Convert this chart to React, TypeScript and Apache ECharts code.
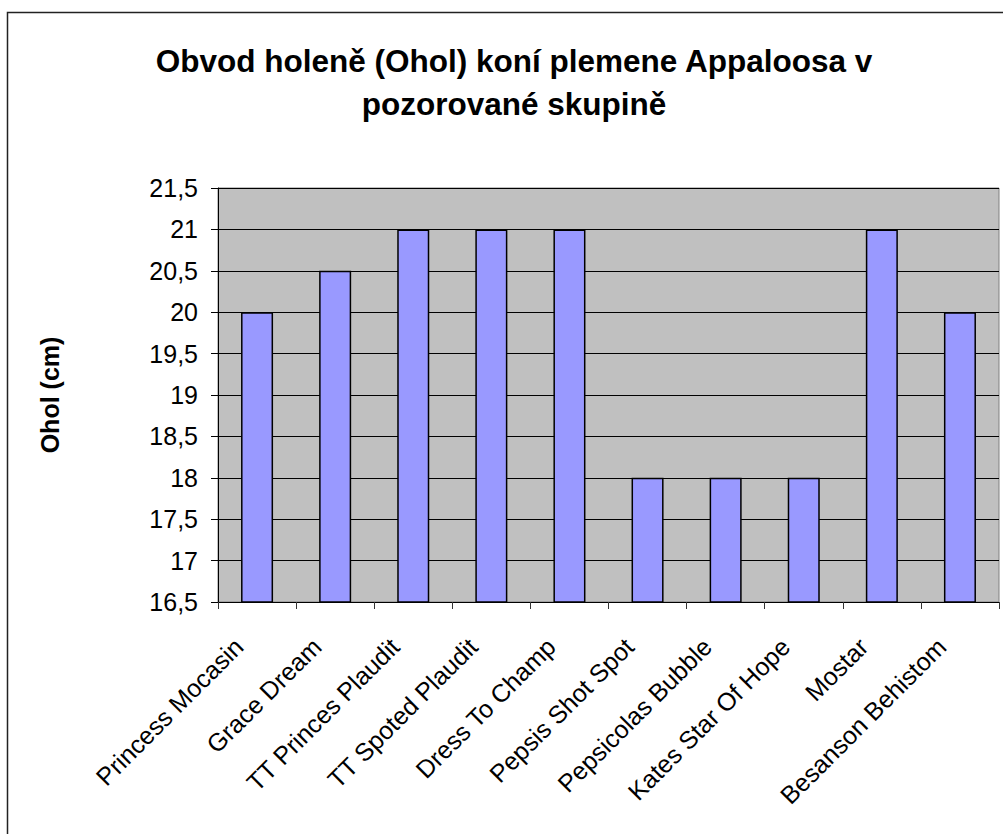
import React, { useEffect, useRef } from "react";
import * as echarts from "echarts";

const titleLines = ["Obvod holeně (Ohol) koní plemene Appaloosa v", "pozorované skupině"];
const yAxisName = "Ohol (cm)";
const horses = [
  "Princess Mocasin",
  "Grace Dream",
  "TT Princes Plaudit",
  "TT Spoted Plaudit",
  "Dress To Champ",
  "Pepsis Shot Spot",
  "Pepsicolas Bubble",
  "Kates Star Of Hope",
  "Mostar",
  "Besanson Behistom",
];
const oholValues = [20, 20.5, 21, 21, 21, 18, 18, 18, 21, 20];
const yMin = 16.5;
const yMax = 21.5;
const yStep = 0.5;

const FONT = "'Liberation Sans', Arial, sans-serif";

export default function App() {
  const ref = useRef<HTMLDivElement>(null);
  useEffect(() => {
    if (!ref.current) return;
    const chart = echarts.init(ref.current, null, { renderer: "svg" });
    chart.setOption({
      animation: false,
      backgroundColor: "#ffffff",
      textStyle: { fontFamily: FONT },
      graphic: [
        {
          type: "rect",
          shape: { x: 7.5, y: 12.5, width: 1200, height: 1000 },
          style: { fill: "none", stroke: "#222", lineWidth: 1.5 },
          silent: true,
        },
        {
          type: "text",
          x: 514,
          y: 39,
          style: {
            text: titleLines.join("\n"),
            textAlign: "center",
            textVerticalAlign: "top",
            font: `bold 31.5px ${FONT}`,
            lineHeight: 43,
            fill: "#000",
          },
        },
      ],
      grid: {
        left: 218,
        right: 4,
        top: 188,
        bottom: 232,
        show: true,
        backgroundColor: "#C0C0C0",
        borderColor: "#808080",
        borderWidth: 1,
      },
      xAxis: {
        type: "category",
        data: horses,
        boundaryGap: true,
        axisLine: { show: true, lineStyle: { color: "#000", width: 1 } },
        axisTick: { show: true, length: 7, lineStyle: { color: "#333" } },
        axisLabel: {
          rotate: 45,
          interval: 0,
          margin: 22,
          padding: [0, 26, 0, 0],
          color: "#000",
          fontSize: 25,
          fontFamily: FONT,
        },
        splitLine: { show: false },
      },
      yAxis: {
        type: "value",
        min: yMin,
        max: yMax,
        interval: yStep,
        name: yAxisName,
        nameLocation: "middle",
        nameGap: 156,
        nameTextStyle: { fontSize: 25, fontWeight: "bold", color: "#000", fontFamily: FONT },
        axisLine: { show: true, lineStyle: { color: "#000", width: 1 } },
        axisTick: { show: true, length: 7, lineStyle: { color: "#000" } },
        axisLabel: {
          margin: 20,
          color: "#000",
          fontSize: 25,
          fontFamily: FONT,
          formatter: (v: number) => String(v).replace(".", ","),
        },
        splitLine: { show: true, lineStyle: { color: "#000", width: 1 } },
      },
      series: [
        {
          type: "bar",
          data: oholValues,
          barWidth: "41%",
          itemStyle: { color: "#9999FF", borderColor: "#000", borderWidth: 1.5 },
        },
      ],
    });
    return () => chart.dispose();
  }, []);
  return (
    <div
      ref={ref}
      style={{ position: "absolute", left: 0, top: 0, width: 1003, height: 834 }}
    />
  );
}
